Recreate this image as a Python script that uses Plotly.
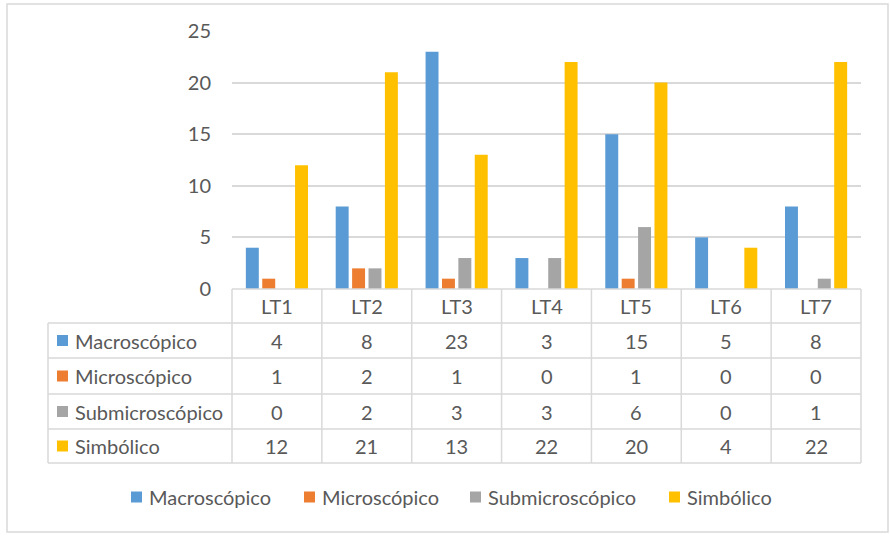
import plotly.graph_objects as go

categories = ["LT1", "LT2", "LT3", "LT4", "LT5", "LT6", "LT7"]
series_names = ["Macroscópico", "Microscópico", "Submicroscópico", "Simbólico"]
macro = [4, 8, 23, 3, 15, 5, 8]
micro = [1, 2, 1, 0, 1, 0, 0]
submicro = [0, 2, 3, 3, 6, 0, 1]
simbolico = [12, 21, 13, 22, 20, 4, 22]
y_ticks = [0, 5, 10, 15, 20, 25]

series_values = [macro, micro, submicro, simbolico]
colors = ["#5B9BD5", "#ED7D31", "#A5A5A5", "#FFC000"]

W, H = 890, 538
L, R, T, B = 232, 861, 31, 289
FONT = "Lato"
FS = 20
TXT = "#595959"
GRID = "#D9D9D9"


def px(x):
    return (x - L) / (R - L)


def py(y):
    return (B - y) / (B - T)


fig = go.Figure()
for name, vals, col in zip(series_names, series_values, colors):
    fig.add_trace(go.Bar(x=categories, y=vals, name=name, marker=dict(color=col, line=dict(width=0)),
                         showlegend=False))

shapes = []
annotations = []

# outer chart border
shapes.append(dict(type="rect", xref="paper", yref="paper", x0=px(7), x1=px(888), y0=py(4), y1=py(532),
                   line=dict(color=GRID, width=1.5), fillcolor="rgba(0,0,0,0)", layer="below"))

# data table geometry (pixel rows)
row_lines = [289, 323, 358, 394, 429, 463]
label_left = 48
ncat = len(categories)

def line(x0, y0, x1, y1):
    shapes.append(dict(type="line", xref="paper", yref="paper", x0=px(x0), x1=px(x1), y0=py(y0), y1=py(y1),
                       line=dict(color=GRID, width=1.5)))

line(L, row_lines[0], R, row_lines[0])
for yl in row_lines[1:]:
    line(label_left, yl, R, yl)
line(label_left, row_lines[1], label_left, row_lines[-1])
for i in range(ncat + 1):
    xb = i / ncat
    shapes.append(dict(type="line", xref="paper", yref="paper", x0=xb, x1=xb, y0=py(row_lines[0]),
                       y1=py(row_lines[-1]), line=dict(color=GRID, width=1.5)))

# header labels
hy = (row_lines[0] + row_lines[1]) / 2
for i, c in enumerate(categories):
    annotations.append(dict(x=(i + 0.5) / ncat, y=py(hy), xref="paper", yref="paper", text=c, showarrow=False,
                            font=dict(family=FONT, size=FS, color=TXT), xanchor="center", yanchor="middle"))

# rows
for r, (name, vals, col) in enumerate(zip(series_names, series_values, colors)):
    cy = (row_lines[r + 1] + row_lines[r + 2]) / 2
    shapes.append(dict(type="rect", xref="paper", yref="paper", x0=px(57), x1=px(68), y0=py(cy - 5.5),
                       y1=py(cy + 5.5), fillcolor=col, line=dict(width=0)))
    annotations.append(dict(x=px(73), y=py(cy), xref="paper", yref="paper", text=name, showarrow=False,
                            font=dict(family=FONT, size=FS, color=TXT), xanchor="left", yanchor="middle"))
    for i, v in enumerate(vals):
        annotations.append(dict(x=(i + 0.5) / ncat, y=py(cy), xref="paper", yref="paper", text=str(v),
                                showarrow=False, font=dict(family=FONT, size=FS, color=TXT),
                                xanchor="center", yanchor="middle"))

# bottom legend
leg_y = 497
leg_x = [131, 304, 470, 669]
for name, col, lx in zip(series_names, colors, leg_x):
    shapes.append(dict(type="rect", xref="paper", yref="paper", x0=px(lx), x1=px(lx + 11), y0=py(leg_y - 5.5),
                       y1=py(leg_y + 5.5), fillcolor=col, line=dict(width=0)))
    annotations.append(dict(x=px(lx + 16), y=py(leg_y), xref="paper", yref="paper", text=name, showarrow=False,
                            font=dict(family=FONT, size=FS, color=TXT), xanchor="left", yanchor="middle"))

fig.update_layout(
    width=W, height=H,
    margin=dict(l=L, r=W - R, t=T, b=H - B, pad=0),
    paper_bgcolor="white", plot_bgcolor="white",
    barmode="group", bargap=0.27, bargroupgap=0.21,
    xaxis=dict(showticklabels=False, showgrid=False, zeroline=False, showline=False, ticks=""),
    yaxis=dict(range=[0, 25], tickvals=y_ticks, showgrid=True, gridcolor=GRID, gridwidth=1.5, zeroline=False,
               showline=False, ticks="", ticklabelstandoff=20,
               tickfont=dict(family=FONT, size=FS, color=TXT)),
    shapes=shapes, annotations=annotations,
    font=dict(family=FONT, color=TXT),
)

fig.write_html("out.html")
